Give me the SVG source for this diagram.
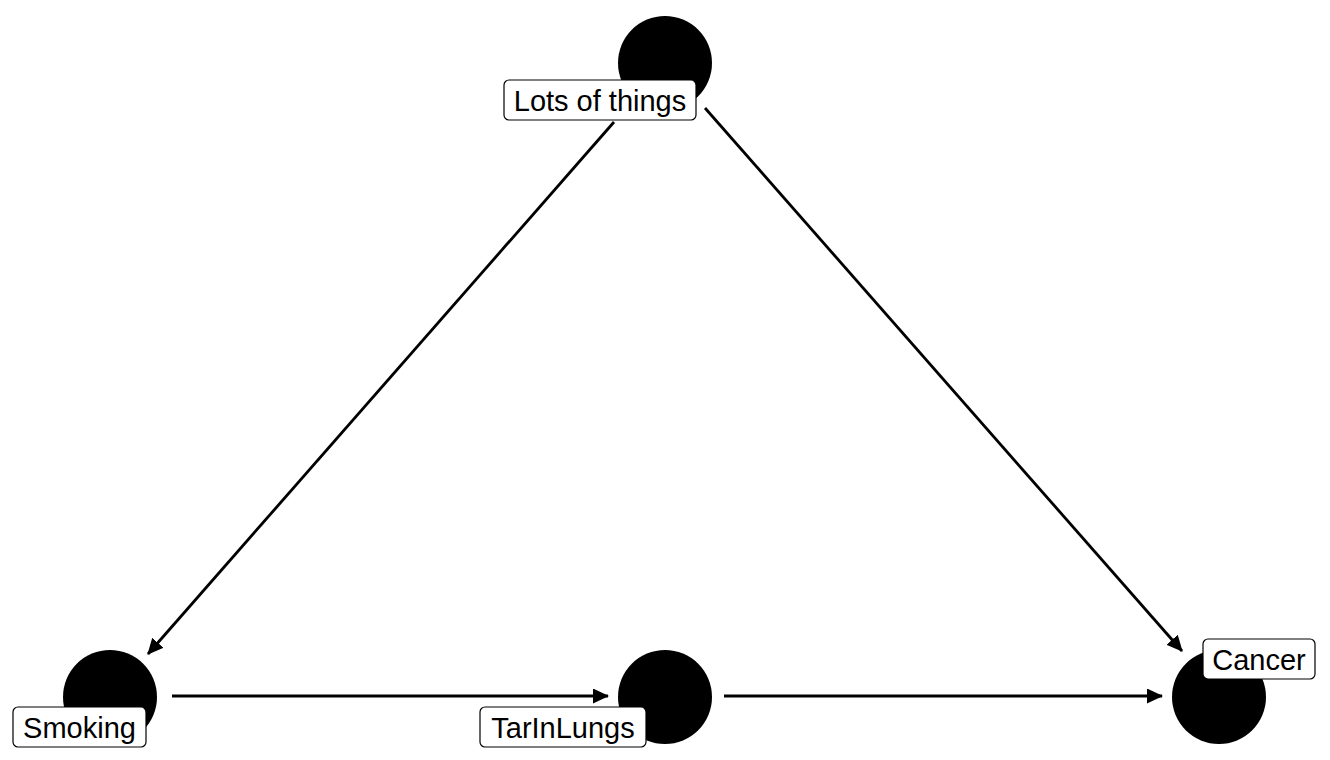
<svg xmlns="http://www.w3.org/2000/svg" width="1330" height="760" viewBox="0 0 1330 760">
<style>
.edge{stroke:#000;stroke-width:2.8;fill:none;marker-end:url(#arr)}
.dot{fill:#000}
.lab{fill:#fff;stroke:#000;stroke-width:1.2}
.txt{font-family:"Liberation Sans",Arial,sans-serif;font-size:29px;fill:#000;text-anchor:middle}
</style>
<defs>
<marker id="arr" markerUnits="userSpaceOnUse" markerWidth="16" markerHeight="15" refX="15" refY="7.5" orient="auto" viewBox="0 0 16 15">
<path d="M0,0 L16,7.5 L0,15 Z" fill="#000"/>
</marker>
</defs>
<rect width="1330" height="760" fill="#fff"/>
<g id="connectors">
<line class="edge" x1="614" y1="122" x2="148" y2="654"/>
<line class="edge" x1="705" y1="108" x2="1182" y2="651"/>
<line class="edge" x1="172" y1="696" x2="608" y2="696"/>
<line class="edge" x1="724" y1="696" x2="1162" y2="696"/>
</g>
<g id="node-lots">
<circle class="dot" cx="665" cy="63" r="47"/>
</g>
<g id="node-smoking">
<circle class="dot" cx="110" cy="697" r="47"/>
</g>
<g id="node-tar">
<circle class="dot" cx="665" cy="697" r="47"/>
</g>
<g id="node-cancer">
<circle class="dot" cx="1219" cy="697" r="47"/>
</g>
<g id="label-lots">
<rect class="lab" x="504" y="80" width="192" height="40" rx="5"/>
<text class="txt" x="600" y="110.5">Lots of things</text>
</g>
<g id="label-smoking">
<rect class="lab" x="13" y="707" width="133" height="40" rx="5"/>
<text class="txt" x="79.5" y="737.5">Smoking</text>
</g>
<g id="label-tar">
<rect class="lab" x="480" y="707" width="166" height="40" rx="5"/>
<text class="txt" x="563" y="737.5">TarInLungs</text>
</g>
<g id="label-cancer">
<rect class="lab" x="1203" y="639" width="112" height="40" rx="5"/>
<text class="txt" x="1259" y="669.5">Cancer</text>
</g>
</svg>
